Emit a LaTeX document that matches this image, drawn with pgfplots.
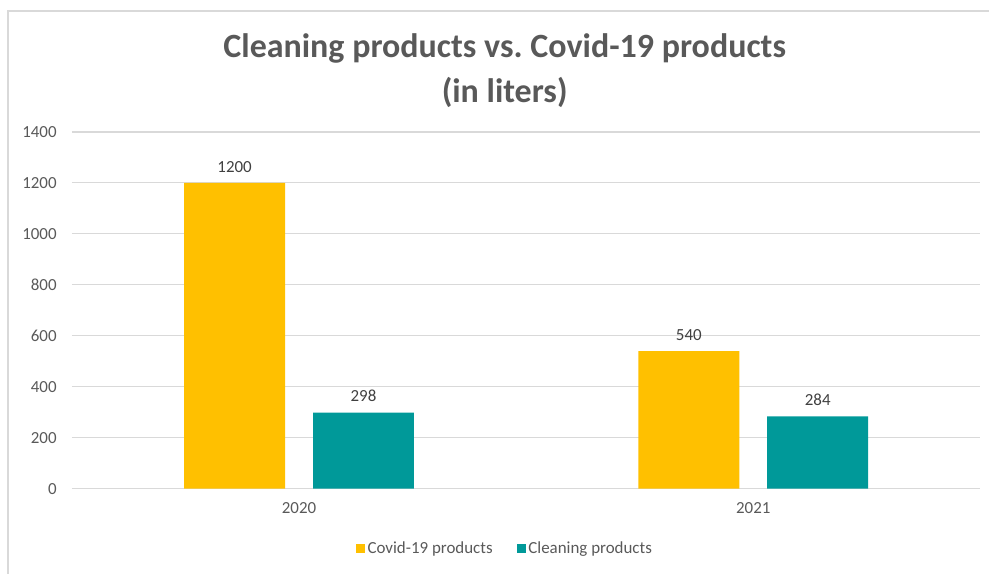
\documentclass[border=0pt]{standalone}
\usepackage{pgfplots}
\pgfplotsset{compat=1.18}
\usepackage{fontspec}
\setmainfont{Carlito}
\definecolor{cyel}{HTML}{FFC000}
\definecolor{cteal}{HTML}{009999}
\definecolor{txt}{HTML}{595959}
\definecolor{grd}{HTML}{D9D9D9}
\frenchspacing
\begin{document}
\begin{tikzpicture}[x=0.75pt,y=0.75pt]
\path (0,0) rectangle (990,574);
\draw[grd, line width=1pt] (8,0) -- (8,563) -- (990,563);
\node[txt, font=\fontsize{25.5}{33.75}\selectfont\bfseries, align=center] at (505,503) {Cleaning products vs.\ Covid-19 products\\(in liters)};
\begin{axis}[
  at={(54pt,63.75pt)}, anchor=south west,
  scale only axis, width=681.75pt, height=267.75pt,
  ybar=21pt, bar width=75.75pt,
  xmin=-0.5, xmax=1.5, ymin=0, ymax=1400,
  ytick={0,200,...,1400},
  xtick=data, xticklabels={2020,2021},
  ymajorgrids, grid style={grd, line width=0.9pt},
  axis line style={draw=none},
  major tick length=0pt,
  /pgf/number format/assume math mode=true,
  /pgf/number format/1000 sep={},
  tick label style={txt, font=\fontsize{12.7}{15}\selectfont},
  yticklabel style={xshift=-8pt},
  xticklabel style={yshift=-7pt},
  nodes near coords,
  nodes near coords style={font=\fontsize{12.7}{15}\selectfont, color=black!75, yshift=4.5pt},
  legend style={at={(0.477,-0.168)}, anchor=center, draw=none, fill=none,
    font=\fontsize{12.7}{15}\selectfont, text=txt,
    /tikz/every even column/.append style={column sep=16pt}},
  legend columns=2,
  legend image code/.code={\fill[#1] (-1.5pt,-3.4pt) rectangle (5.3pt,3.4pt);},
]
\addplot[fill=cyel, draw=none] coordinates {(0,1200) (1,540)};
\addplot[fill=cteal, draw=none] coordinates {(0,298) (1,284)};
\legend{Covid-19 products, Cleaning products}
\end{axis}
\end{tikzpicture}
\end{document}
